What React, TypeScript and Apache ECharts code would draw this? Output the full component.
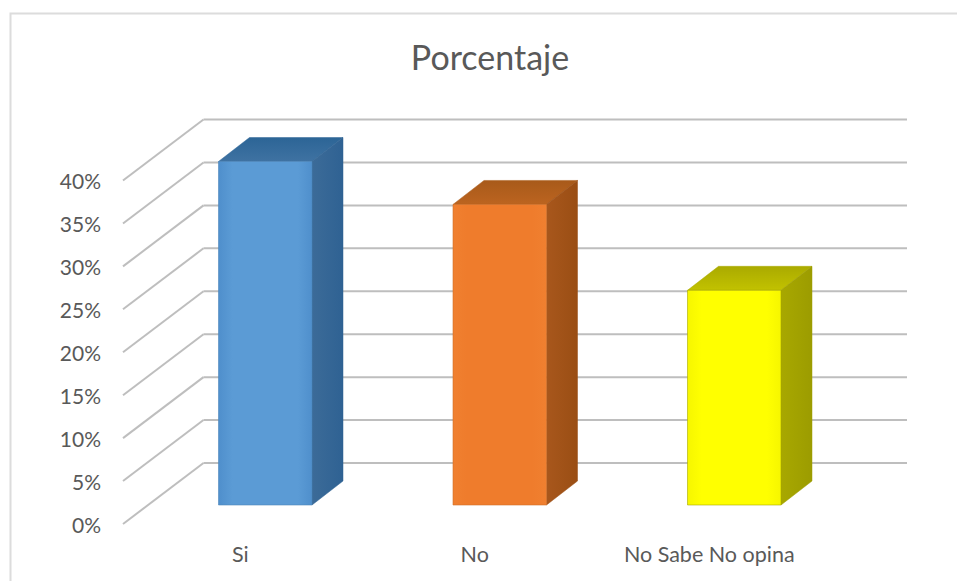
import React, { useEffect, useRef } from "react";
import * as echarts from "echarts";

const titleText = "Porcentaje";
const categories = ["Si", "No", "No Sabe No opina"];
const percentages = [40, 35, 25];
const tickValues = [0, 5, 10, 15, 20, 25, 30, 35, 40];
const faceColors = ["#5B9BD5", "#EF7C2C", "#FFFF00"];
const faceEdgeColors = ["#4F8FCC", "#F08030", "#F6F600"];
const sideColors = ["#3C6B98", "#A8571C", "#A8A800"];
const sideDarkColors = ["#2F6293", "#9A4E14", "#9C9C00"];
const topColors = ["#3F72A2", "#BC6420", "#C2C200"];
const topDarkColors = ["#2C6596", "#A85A1A", "#AAAA00"];
const edgeColors = ["#4E86BA", "#D06E28", "#A8A800"];

const FONT = "Lato, Carlito, 'Open Sans', sans-serif";
const TEXT = "#595959";
const GRID = "#BEBEBE";
// Oblique projection: wall depth, bar position inside it, and bar depth.
const WALL_DX = 80.5;
const WALL_DY = -61;
const BAR_DX = 25;
const BAR_DY = -19;
const DEPTH_DX = 31;
const DEPTH_DY = -24;
const BAR_W = 93.5;

function renderGrid(params: any, api: any) {
  const cs = params.coordSys;
  const y = api.coord([0, api.value(1)])[1];
  const style = { stroke: GRID, lineWidth: 2, fill: "none" };
  return {
    type: "group",
    children: [
      {
        type: "line",
        shape: { x1: cs.x, y1: y, x2: cs.x + WALL_DX, y2: y + WALL_DY },
        style,
      },
      {
        type: "line",
        shape: {
          x1: cs.x + WALL_DX,
          y1: y + WALL_DY,
          x2: cs.x + cs.width + WALL_DX,
          y2: y + WALL_DY,
        },
        style,
      },
    ],
  };
}

function renderBar(params: any, api: any) {
  const i = params.dataIndex;
  const top = api.coord([api.value(0), api.value(1)]);
  const base = api.coord([api.value(0), 0]);
  const x0 = top[0] + BAR_DX - BAR_W / 2;
  const x1 = x0 + BAR_W;
  const yT = top[1] + BAR_DY;
  const yB = base[1] + BAR_DY;
  const edge = { stroke: edgeColors[i], lineWidth: 0.6 };
  const topFill = new echarts.graphic.LinearGradient(0, 1, 0, 0, [
    { offset: 0, color: topColors[i] },
    { offset: 1, color: topDarkColors[i] },
  ]);
  const sideFill = new echarts.graphic.LinearGradient(0, 0, 1, 0, [
    { offset: 0, color: sideColors[i] },
    { offset: 1, color: sideDarkColors[i] },
  ]);
  const faceFill = new echarts.graphic.LinearGradient(0, 0, 1, 0, [
    { offset: 0, color: faceEdgeColors[i] },
    { offset: 0.15, color: faceColors[i] },
    { offset: 0.85, color: faceColors[i] },
    { offset: 1, color: faceEdgeColors[i] },
  ]);
  return {
    type: "group",
    children: [
      {
        type: "polygon",
        shape: {
          points: [
            [x0, yT],
            [x0 + DEPTH_DX, yT + DEPTH_DY],
            [x1 + DEPTH_DX, yT + DEPTH_DY],
            [x1, yT],
          ],
        },
        style: { fill: topFill, stroke: topDarkColors[i], lineWidth: 0.5 },
      },
      {
        type: "polygon",
        shape: {
          points: [
            [x1, yT],
            [x1 + DEPTH_DX, yT + DEPTH_DY],
            [x1 + DEPTH_DX, yB + DEPTH_DY],
            [x1, yB],
          ],
        },
        style: { fill: sideFill, stroke: sideDarkColors[i], lineWidth: 0.5 },
      },
      {
        type: "rect",
        shape: { x: x0, y: yT, width: BAR_W, height: yB - yT },
        style: { fill: faceFill, ...edge },
      },
    ],
  };
}

export default function App() {
  const ref = useRef<HTMLDivElement>(null);
  useEffect(() => {
    document.body.style.margin = "0";
    const chart = echarts.init(ref.current!, undefined, { renderer: "svg" });
    chart.setOption({
      animation: false,
      backgroundColor: "#FFFFFF",
      title: {
        text: titleText,
        left: 485,
        top: 34,
        textAlign: "center",
        textStyle: { fontFamily: FONT, fontSize: 34, fontWeight: "normal", color: TEXT },
      },
      grid: { left: 123, top: 180.5, width: 703.5, height: 343.5 },
      xAxis: {
        type: "category",
        data: categories,
        axisLine: { show: false },
        axisTick: { show: false },
        axisLabel: { fontFamily: FONT, fontSize: 21.5, color: TEXT, margin: 19, interval: 0 },
      },
      yAxis: {
        type: "value",
        min: 0,
        max: 40,
        interval: 5,
        axisLine: { show: false },
        axisTick: { show: false },
        splitLine: { show: false },
        axisLabel: { formatter: "{value}%", fontFamily: FONT, fontSize: 21, color: TEXT, margin: 22 },
      },
      graphic: [
        {
          type: "rect",
          silent: true,
          z: -10,
          shape: { x: 10.5, y: 13.5, width: 980, height: 600 },
          style: { fill: "none", stroke: "#DCDCDC", lineWidth: 2 },
        },
      ],
      series: [
        {
          type: "custom",
          name: "grid",
          z: 1,
          silent: true,
          renderItem: renderGrid,
          encode: { x: 0, y: 1 },
          data: tickValues.map((v) => [0, v]),
        },
        {
          type: "custom",
          name: "Porcentaje",
          z: 2,
          renderItem: renderBar,
          encode: { x: 0, y: 1 },
          data: percentages.map((v, i) => [i, v]),
        },
      ],
    });
    return () => chart.dispose();
  }, []);
  return (
    <div
      ref={ref}
      style={{ position: "absolute", left: 0, top: 0, width: 957, height: 581 }}
    />
  );
}
